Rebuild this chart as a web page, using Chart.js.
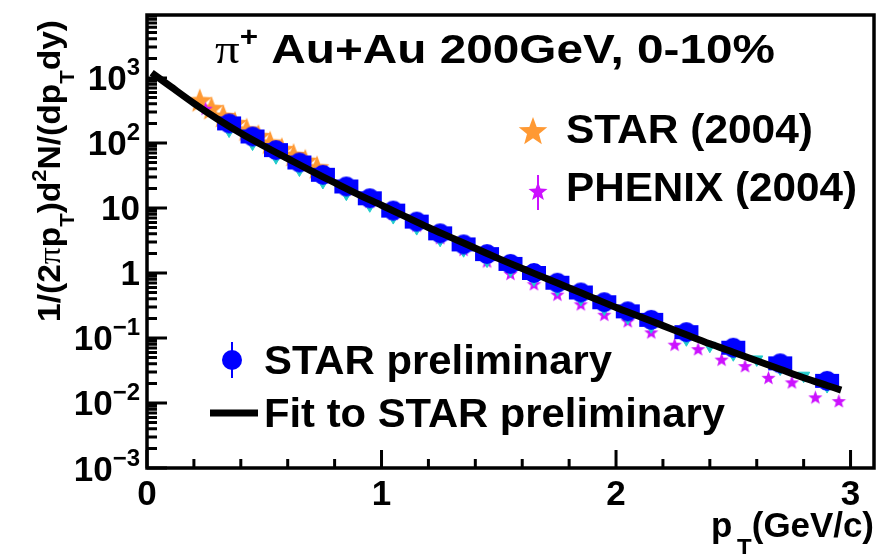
<!DOCTYPE html>
<html>
<head>
<meta charset="utf-8">
<script src="https://cdn.jsdelivr.net/npm/chart.js@4.4.0/dist/chart.umd.min.js"></script>
<style>
  html, body { margin: 0; padding: 0; background: #fff; }
  #wrap { width: 877px; height: 554px; }
</style>
</head>
<body>
<div id="wrap"><canvas id="c" width="877" height="554"></canvas></div>
<script>
// ---- data ----
// STAR preliminary (blue circles)
const prelimPt = [0.35,0.45,0.55,0.65,0.75,0.85,0.95,1.05,1.15,1.25,1.35,1.45,1.55,1.65,1.75,1.85,1.95,2.05,2.15,2.3,2.5,2.7,2.9];
const prelimY  = [200,126,77.6,50.1,32.4,21.4,14.1,9.12,6.17,4.07,2.75,1.95,1.38,1.0,0.708,0.501,0.355,0.257,0.19,0.123,0.0708,0.0407,0.0219];

// cyan points under the preliminary data
const cyanPt = [0.35,0.45,0.55,0.65,0.75,0.85,0.95,1.05,1.15,1.25,1.35,1.45,1.55,1.65,1.75,1.85,1.95,2.05,2.15,2.3,2.4,2.5,2.6,2.7,2.8,2.9];
const cyanY  = [155,97.7,60.3,38.9,25.1,16.6,11.0,7.24,4.90,3.24,2.24,1.55,1.10,0.794,0.562,0.398,0.282,0.204,0.151,0.0955,0.0759,0.0562,0.0468,0.0339,0.0263,0.0182];

// STAR (2004), orange stars
const star04Pt = [0.225,0.275,0.325,0.375,0.425,0.475,0.525,0.575,0.625,0.675,0.725];
const star04Y  = [437,331,251,195,155,123,97.7,77.6,63.1,51.3,40.7];

// PHENIX (2004), magenta stars
const phenixPt = [0.25,0.35,0.45,0.55,0.65,0.75,0.85,0.95,1.05,1.15,1.25,1.35,1.45,1.55,1.65,1.75,1.85,1.95,2.05,2.15,2.25,2.35,2.45,2.55,2.65,2.75,2.85,2.95];
const phenixY  = [331,191,117,72.4,45.7,29.5,19.1,12.3,7.94,5.25,3.39,2.24,1.48,0.955,0.661,0.457,0.324,0.224,0.178,0.120,0.0776,0.0661,0.0457,0.0363,0.024,0.0204,0.012,0.0105];

// fit to STAR preliminary
const fitPt = [0.02,0.1,0.2,0.3,0.4,0.5,0.6,0.7,0.8,0.9,1.0,1.1,1.2,1.3,1.4,1.5,1.6,1.7,1.8,1.9,2.0,2.1,2.2,2.3,2.4,2.5,2.6,2.7,2.8,2.9,2.96];
const fitY  = [1202,741,407,234,141,89.1,57.5,37.2,24.5,16.2,11.0,7.41,5.01,3.47,2.40,1.66,1.17,0.832,0.589,0.417,0.295,0.214,0.155,0.112,0.0813,0.0603,0.0447,0.0331,0.0245,0.0186,0.0158];

// axis ticks
const xTickValues = [0, 1, 2, 3];
const xTickLabels = ['0', '1', '2', '3'];
const yTickValues = [0.001, 0.01, 0.1, 1, 10, 100, 1000];
const yTickBase   = ['10', '10', '10', '1', '10', '10', '10'];
const yTickSup    = ['\u22123', '\u22122', '\u22121', '', '', '2', '3'];

const B = n => `bold ${n}px "Liberation Sans", Arial, sans-serif`;
const SERIF = n => `${n}px "Liberation Serif", "Times New Roman", serif`;

// ---- marker images ----
function starPath(ctx, x, y, R, r) {
  ctx.beginPath();
  for (let i = 0; i < 10; i++) {
    const a = -Math.PI / 2 + i * Math.PI / 5;
    const rr = i % 2 ? r : R;
    ctx.lineTo(x + rr * Math.cos(a), y + rr * Math.sin(a));
  }
  ctx.closePath();
}
function starImg(color, R) {
  const c = document.createElement('canvas');
  c.width = c.height = Math.ceil(2 * R + 2);
  const g = c.getContext('2d');
  g.fillStyle = color;
  starPath(g, c.width / 2, c.height / 2, R, R * 0.42);
  g.fill();
  return c;
}
function blueImg() {
  const c = document.createElement('canvas');
  c.width = 26; c.height = 24;
  const g = c.getContext('2d');
  g.fillStyle = '#0000ff';
  g.fillRect(1, 5, 24, 14);
  g.beginPath(); g.arc(13, 12, 10, 0, Math.PI * 2); g.fill();
  return c;
}
const orangeStar = starImg('#ff9933', 13);
const magentaStar = starImg('#cc11ff', 7.5);
const blueMark = blueImg();

const toXY = (xs, ys) => xs.map((x, i) => ({ x, y: ys[i] }));

// ---- text helper: runs with sub/superscripts, optionally stretched to a width ----
function drawRuns(ctx, runs, x, y, width) {
  let w = 0;
  runs.forEach(r => { ctx.font = r.font; w += ctx.measureText(r.t).width; });
  const sx = width ? width / w : 1;
  ctx.save();
  ctx.translate(x, y);
  ctx.scale(sx, 1);
  let cx = 0;
  runs.forEach(r => {
    ctx.font = r.font;
    ctx.fillText(r.t, cx, r.dy || 0);
    cx += ctx.measureText(r.t).width;
  });
  ctx.restore();
  return w;
}
function runsWidth(ctx, runs) {
  let w = 0;
  runs.forEach(r => { ctx.font = r.font; w += ctx.measureText(r.t).width; });
  return w;
}

const decor = {
  id: 'decor',
  afterDraw(chart) {
    const ctx = chart.ctx;
    const xs = chart.scales.x, ys = chart.scales.y;
    const a = chart.chartArea;
    ctx.save();
    ctx.fillStyle = '#000';
    ctx.strokeStyle = '#000';
    ctx.textBaseline = 'alphabetic';
    ctx.textAlign = 'left';

    // inward ticks
    ctx.lineWidth = 3;
    ctx.beginPath();
    for (let i = 0; i <= 15; i++) {
      const v = i * 0.2;
      const px = xs.getPixelForValue(v);
      const len = (i % 5 === 0) ? 18 : 9;
      ctx.moveTo(px, a.bottom); ctx.lineTo(px, a.bottom - len);
    }
    for (let d = -3; d <= 3; d++) {
      for (let m = 1; m <= 9; m++) {
        const v = m * Math.pow(10, d);
        if (v > ys.max) continue;
        const py = ys.getPixelForValue(v);
        const len = m === 1 ? 20 : 10;
        ctx.moveTo(a.left, py); ctx.lineTo(a.left + len, py);
      }
    }
    ctx.stroke();

    // frame
    ctx.lineWidth = 3.5;
    ctx.strokeRect(a.left, a.top, a.right - a.left, a.bottom - a.top);

    // x tick labels
    xTickValues.forEach((v, i) => {
      ctx.font = B(35);
      const w = ctx.measureText(xTickLabels[i]).width;
      ctx.fillText(xTickLabels[i], xs.getPixelForValue(v) - w / 2, 505);
    });
    // y tick labels
    yTickValues.forEach((v, i) => {
      const runs = [{ t: yTickBase[i], font: B(35) }];
      if (yTickSup[i]) runs.push({ t: yTickSup[i], font: B(24), dy: -15 });
      const w = runsWidth(ctx, runs);
      drawRuns(ctx, runs, 140 - w, ys.getPixelForValue(v) + 12.5);
    });

    // axis titles
    drawRuns(ctx, [
      { t: 'p', font: B(35) },
      { t: '\u2009T', font: B(24), dy: 19 },
      { t: '(GeV/c)', font: B(35) }
    ], 711, 537, 163);
    ctx.save();
    ctx.translate(60, 322);
    ctx.rotate(-Math.PI / 2);
    drawRuns(ctx, [
      { t: '1/(2', font: B(32) },
      { t: '\u03c0', font: SERIF(32) },
      { t: 'p', font: B(32) },
      { t: 'T', font: B(21), dy: 14 },
      { t: ')d', font: B(32) },
      { t: '2', font: B(21), dy: -14 },
      { t: 'N/(dp', font: B(32) },
      { t: 'T', font: B(21), dy: 14 },
      { t: 'dy)', font: B(32) }
    ], 0, 0, 302);
    ctx.restore();

    // title
    drawRuns(ctx, [
      { t: '\u03c0', font: SERIF(42) },
      { t: '+', font: B(27), dy: -17 },
      { t: ' Au+Au 200GeV, 0-10%', font: B(41) }
    ], 215, 63, 560);

    // legend (upper right)
    ctx.drawImage(starImg('#ff9933', 15), 533 - 16, 132 - 16);
    drawRuns(ctx, [{ t: 'STAR (2004)', font: B(41) }], 566, 143, 247);
    ctx.strokeStyle = '#cc11ff'; ctx.lineWidth = 2;
    ctx.beginPath(); ctx.moveTo(538, 175); ctx.lineTo(538, 210); ctx.stroke();
    ctx.drawImage(starImg('#cc11ff', 10), 538 - 11, 192 - 11);
    drawRuns(ctx, [{ t: 'PHENIX (2004)', font: B(41) }], 566, 201, 291);

    // legend (lower left)
    ctx.strokeStyle = '#0000ff'; ctx.lineWidth = 2;
    ctx.beginPath(); ctx.moveTo(232, 342); ctx.lineTo(232, 378); ctx.stroke();
    ctx.fillStyle = '#0000ff';
    ctx.beginPath(); ctx.arc(232, 360, 10, 0, Math.PI * 2); ctx.fill();
    ctx.fillStyle = '#000';
    drawRuns(ctx, [{ t: 'STAR preliminary', font: B(41) }], 264, 374, 348);
    ctx.strokeStyle = '#000'; ctx.lineWidth = 7;
    ctx.beginPath(); ctx.moveTo(210, 413); ctx.lineTo(258, 413); ctx.stroke();
    drawRuns(ctx, [{ t: 'Fit to STAR preliminary', font: B(41) }], 264, 427, 461);

    ctx.restore();
  }
};

new Chart(document.getElementById('c'), {
  type: 'scatter',
  data: {
    datasets: [
      {
        type: 'line', label: 'Fit to STAR preliminary', order: 0,
        data: toXY(fitPt, fitY), borderColor: '#000', borderWidth: 7,
        pointRadius: 0, tension: 0.3, fill: false, borderCapStyle: 'butt'
      },
      {
        label: 'STAR preliminary', order: 1, data: toXY(prelimPt, prelimY),
        pointStyle: blueMark, pointRadius: 10, backgroundColor: '#0000ff', borderColor: '#0000ff'
      },
      {
        label: 'cyan', order: 2, data: toXY(cyanPt, cyanY),
        pointStyle: 'triangle', rotation: 180, pointRadius: 7,
        backgroundColor: '#22cccc', borderColor: '#22cccc', borderWidth: 1
      },
      {
        label: 'PHENIX (2004)', order: 3, data: toXY(phenixPt, phenixY),
        pointStyle: magentaStar, pointRadius: 7, backgroundColor: '#cc11ff', borderColor: '#cc11ff'
      },
      {
        label: 'STAR (2004)', order: 4, data: toXY(star04Pt, star04Y),
        pointStyle: orangeStar, pointRadius: 13, backgroundColor: '#ff9933', borderColor: '#ff9933'
      }
    ]
  },
  options: {
    responsive: false,
    animation: false,
    devicePixelRatio: 1,
    layout: { autoPadding: false, padding: { left: 147, top: 15, right: 3, bottom: 86 } },
    plugins: { legend: { display: false }, tooltip: { enabled: false } },
    scales: {
      x: {
        type: 'linear', min: 0, max: 3.1,
        grid: { display: false, drawTicks: false },
        border: { display: false },
        ticks: { display: false, stepSize: 0.2 }
      },
      y: {
        type: 'logarithmic', min: 0.001, max: 9300,
        grid: { display: false, drawTicks: false },
        border: { display: false },
        ticks: { display: false }
      }
    }
  },
  plugins: [decor]
});
</script>
</body>
</html>
